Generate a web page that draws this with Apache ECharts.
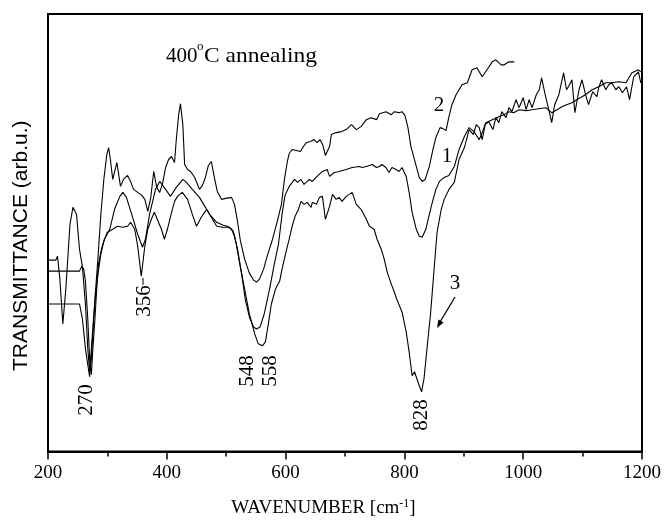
<!DOCTYPE html>
<html>
<head>
<meta charset="utf-8">
<script src="https://cdn.jsdelivr.net/npm/echarts@6/dist/echarts.min.js"></script>
<style>html,body{margin:0;padding:0;background:#fff;}#c{width:664px;height:523px;}</style>
</head>
<body>
<div id="c"></div>
<script>
// Wavenumber (cm-1) and transmittance (arb. units) for each spectrum
const wn1 = [200,253,257,260,263,267,270,273,275,279,282,285,290,295,304,312,321,326,332,341,351,359,364,371,381,388,398,406,416,427,433,443,455,460,472,484,495,502,509,514,519,526,532,539,546,551,557,564,573,581,588,594,599,606,615,620,626,631,640,645,653,662,670,674,682,690,702,712,724,729,736,746,753,758,762,769,774,779,786,791,796,803,808,813,820,825,830,836,842,847,853,859,867,875,884,892,901,909,917,926,931,937,948,959,968,976,984,993,1005,1015,1026,1038,1048,1057,1065,1073,1082,1090,1099,1107,1116,1127,1139,1149,1161,1173,1183,1194,1198];
const tr1 = [181,181,186,183,171,133,93,77,98,133,163,188,203,213,223,243,256,260,255,238,218,205,213,238,263,271,263,256,265,273,270,263,255,250,238,230,227,226,223,216,203,178,153,135,125,123,125,138,163,188,208,238,257,266,273,270,273,268,273,271,276,281,283,276,280,281,283,285,286,285,286,288,285,286,288,285,280,285,283,281,285,276,260,240,223,216,215,223,238,250,263,271,275,277,286,303,316,325,321,313,320,330,333,336,338,341,340,343,342,343,344,345,340,343,346,348,350,353,356,359,363,366,370,370,371,370,380,383,381];

const wn2 = [200,213,216,220,225,230,237,242,248,253,258,263,267,270,273,279,284,289,294,299,302,305,309,312,316,319,322,327,334,339,344,351,358,363,368,373,378,383,388,393,398,403,408,413,416,420,423,427,430,435,440,447,455,460,465,470,475,480,485,492,499,509,514,519,524,531,539,546,551,556,563,569,578,586,593,598,603,606,611,618,625,630,635,642,648,653,658,663,667,670,674,677,685,694,702,711,719,727,736,744,753,758,769,778,783,791,796,801,806,811,820,825,830,835,842,848,853,860,865,870,875,880,887,892,897,906,914,922,931,939,948,954,963,968,976,985];
const tr2 = [192,192,196,173,128,163,228,245,238,203,185,148,103,80,103,153,193,238,273,298,305,293,273,275,290,278,266,273,277,271,263,260,257,253,241,255,281,265,260,269,285,293,296,290,313,338,349,328,288,283,281,275,263,267,275,287,291,275,261,253,254,255,248,231,211,193,179,172,170,173,183,196,213,231,248,273,291,299,303,302,301,306,310,311,313,310,313,307,297,301,306,318,320,321,323,328,323,326,333,335,333,339,341,338,341,340,341,337,325,306,286,275,271,273,286,303,315,325,324,322,336,348,358,363,368,370,383,385,376,383,391,393,388,388,391,391];

const wn3 = [200,253,258,263,268,270,273,277,280,284,289,294,300,309,317,326,334,339,346,351,357,363,368,374,379,384,391,396,401,408,413,418,426,435,443,450,458,467,475,484,494,505,512,517,522,531,539,548,554,561,566,571,576,583,590,594,601,606,611,616,621,626,631,636,643,645,652,657,662,667,674,679,685,690,695,702,707,712,719,727,736,741,749,754,761,766,771,778,783,787,796,803,808,813,817,820,825,829,833,838,844,850,855,862,867,875,884,892,901,909,916,921,926,931,936,942,949,954,959,964,971,976,981,988,993,1000,1005,1010,1015,1022,1027,1031,1037,1043,1048,1053,1060,1068,1073,1078,1082,1087,1094,1099,1105,1110,1117,1124,1127,1132,1139,1144,1149,1156,1161,1167,1174,1179,1186,1194,1198];
const tr3 = [148,148,133,103,83,75,93,133,158,178,198,211,220,223,226,225,226,230,223,206,176,206,223,233,240,233,223,213,223,240,251,256,260,253,238,226,235,243,235,226,225,225,221,208,191,163,138,118,108,106,110,128,148,163,171,183,201,213,226,236,242,251,248,250,245,250,248,255,256,233,246,258,253,255,251,256,258,260,248,243,233,226,223,213,203,193,180,168,160,153,140,120,100,76,80,79,66,60,73,103,138,183,220,243,253,263,270,293,305,323,318,328,325,313,328,331,323,335,330,341,335,345,341,353,345,355,343,353,345,358,363,375,358,343,330,348,358,380,363,368,373,340,363,373,358,348,361,356,365,373,363,368,370,363,366,360,366,353,376,381,370];

// Axis ticks and peak annotations
const xTicks = [200, 400, 600, 800, 1000, 1200];
const peakLabels = ['270', '356', '548', '558', '828'];
const curveLabels = ['1', '2', '3'];

function pairs(xs, ys) {
  const n = Math.min(xs.length, ys.length);
  const out = [];
  for (let i = 0; i < n; i++) out.push([xs[i], ys[i]]);
  return out;
}

const chart = echarts.init(document.getElementById('c'), null, {renderer: 'canvas'});
const serif = 'Liberation Serif';
const lineSeries = (name, data) => ({
  name: name, type: 'line', data: data, showSymbol: false, symbol: 'none',
  lineStyle: {color: '#000', width: 1.1}, silent: true, animation: false
});

const rotText = (txt, x, y) => ({
  type: 'text', x: x, y: y, rotation: Math.PI / 2,
  style: {text: txt, fill: '#000', font: '21px "Liberation Serif"', align: 'center', verticalAlign: 'middle'}
});

chart.setOption({
  animation: false,
  backgroundColor: '#fff',
  grid: {left: 48, right: 21, top: 14, bottom: 70, show: true, borderColor: '#000', borderWidth: 2, backgroundColor: 'transparent'},
  xAxis: {
    type: 'value', min: xTicks[0], max: xTicks[xTicks.length - 1], interval: 200,
    name: '{n|WAVENUMBER [cm}{s|-1}{n|]}',
    nameLocation: 'middle', nameGap: 46,
    nameTextStyle: {
      padding: [0, 43, 0, 0],
      rich: {
        n: {fontFamily: serif, fontSize: 19, color: '#000', lineHeight: 22},
        s: {fontFamily: serif, fontSize: 12, color: '#000', lineHeight: 22, verticalAlign: 'top'}
      }
    },
    axisLine: {show: true, onZero: false, lineStyle: {color: '#000', width: 2}},
    axisTick: {show: true, inside: false, length: 8, lineStyle: {color: '#000', width: 1.5}},
    minorTick: {show: true, splitNumber: 2, length: 5, lineStyle: {color: '#000', width: 1.5}},
    splitLine: {show: false}, minorSplitLine: {show: false},
    axisLabel: {fontFamily: serif, fontSize: 19, color: '#000', margin: 12, showMinLabel: true, showMaxLabel: true,
      formatter: function (v) { return String(v); }}
  },
  yAxis: {
    type: 'value', min: 0, max: 439,
    name: 'TRANSMITTANCE (arb.u.)',
    nameLocation: 'middle', nameGap: 16,
    nameTextStyle: {fontFamily: 'Liberation Sans', fontSize: 21, color: '#000', padding: [0, 26, 0, 0]},
    axisLine: {show: true, lineStyle: {color: '#000', width: 2}},
    axisTick: {show: false}, axisLabel: {show: false}, splitLine: {show: false}
  },
  series: [
    lineSeries('1', pairs(wn1, tr1)),
    lineSeries('2', pairs(wn2, tr2)),
    lineSeries('3', pairs(wn3, tr3))
  ],
  graphic: [
    {type: 'text', x: 166, y: 56, style: {text: '400', fill: '#000', font: '21px "Liberation Serif"', align: 'left', verticalAlign: 'middle'}},
    {type: 'text', x: 197, y: 47, style: {text: 'o', fill: '#000', font: '13px "Liberation Serif"', align: 'left', verticalAlign: 'middle'}},
    {type: 'text', x: 204, y: 56, scaleX: 1.12, style: {text: 'C annealing', fill: '#000', font: '21px "Liberation Serif"', align: 'left', verticalAlign: 'middle'}},
    rotText(peakLabels[0], 86, 400),
    {type: 'line', shape: {x1: 143, y1: 278, x2: 143, y2: 285}, style: {stroke: '#000', lineWidth: 1}},
    rotText(peakLabels[1], 144, 301),
    rotText(peakLabels[2], 247, 371),
    rotText(peakLabels[3], 270, 371),
    rotText(peakLabels[4], 421, 415),
    {type: 'text', x: 447, y: 156, style: {text: curveLabels[0], fill: '#000', font: '21px "Liberation Serif"', align: 'center', verticalAlign: 'middle'}},
    {type: 'text', x: 439, y: 105, style: {text: curveLabels[1], fill: '#000', font: '21px "Liberation Serif"', align: 'center', verticalAlign: 'middle'}},
    {type: 'text', x: 455, y: 283, style: {text: curveLabels[2], fill: '#000', font: '21px "Liberation Serif"', align: 'center', verticalAlign: 'middle'}},
    {type: 'line', shape: {x1: 455, y1: 297, x2: 440, y2: 322}, style: {stroke: '#000', lineWidth: 1.3}},
    {type: 'polygon', shape: {points: [[437, 328], [443.6, 322.6], [438.4, 319.6]]}, style: {fill: '#000'}}
  ]
});
</script>
</body>
</html>
